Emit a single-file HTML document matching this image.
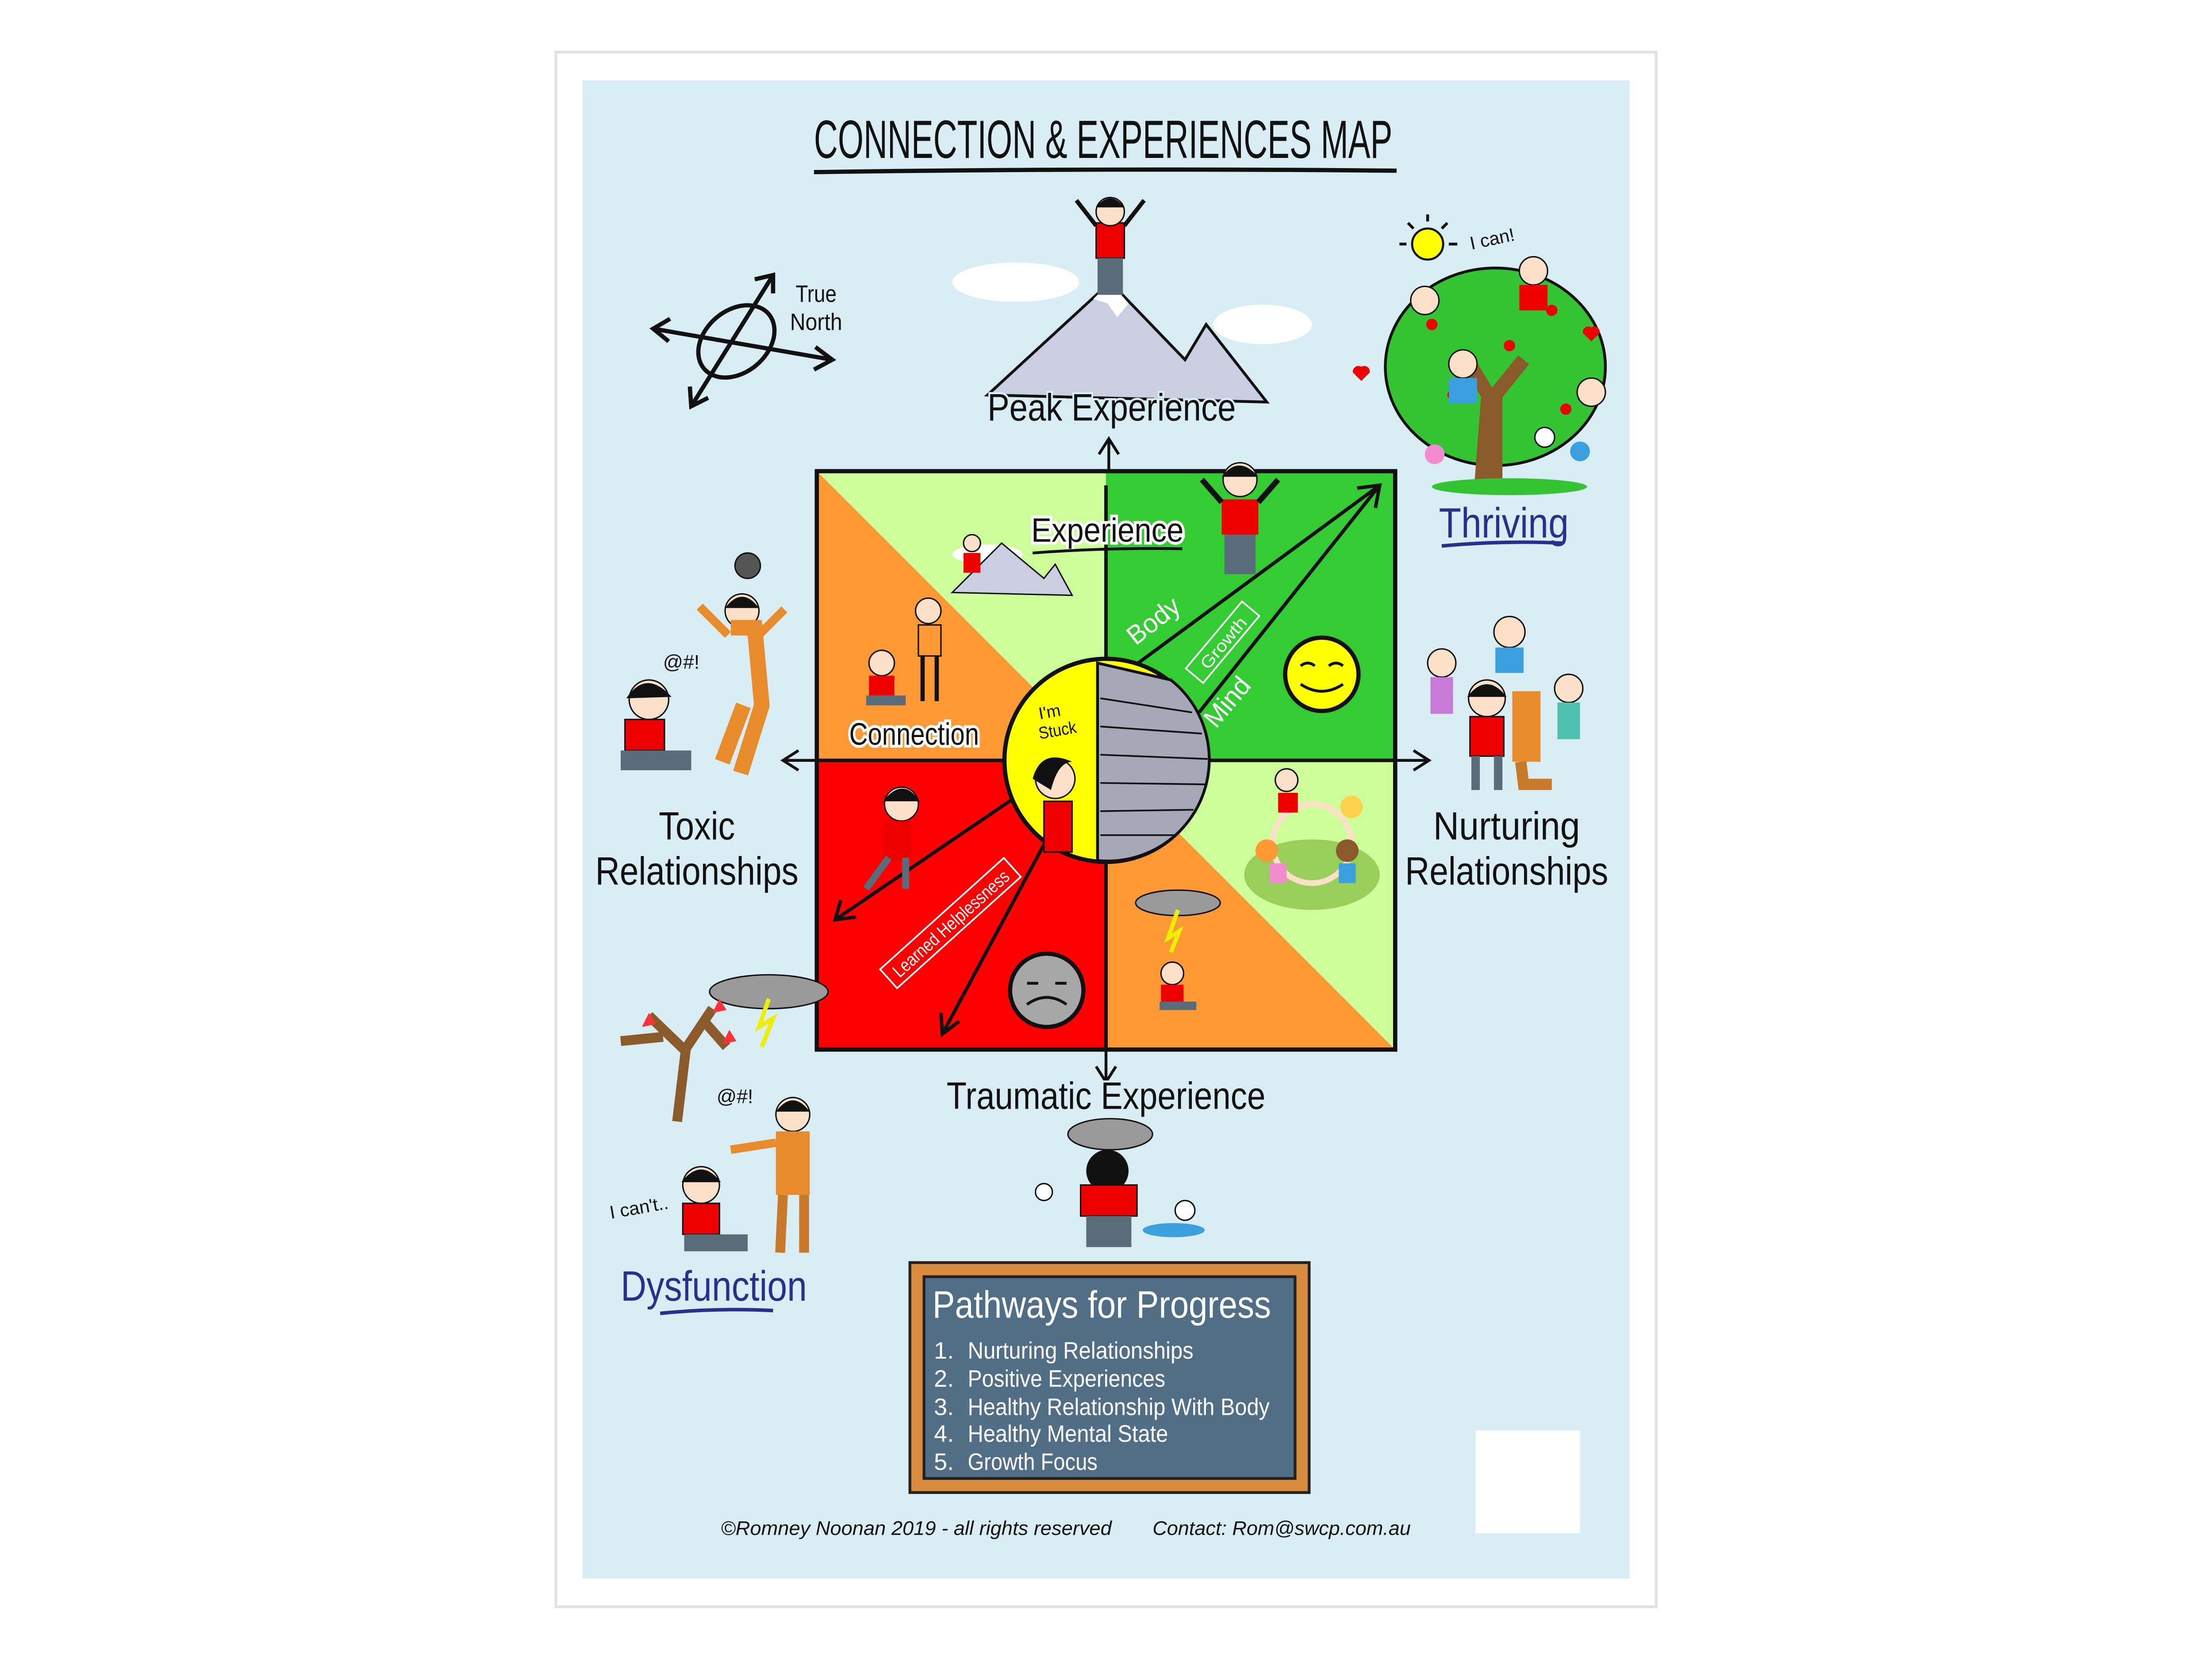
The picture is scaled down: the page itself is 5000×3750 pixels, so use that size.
<!DOCTYPE html>
<html><head><meta charset="utf-8"><style>
html,body{margin:0;padding:0;background:#fff;}
svg{display:block;}
text{font-family:"Liberation Sans Narrow","Liberation Sans",sans-serif;}
</style></head><body>
<svg width="5000" height="3750" viewBox="0 0 1568 1176" xmlns="http://www.w3.org/2000/svg">
<rect x="0" y="0" width="1568" height="1176" fill="#fff"/>
<rect x="393" y="36" width="782" height="1104" fill="#e2e2e2"/>
<rect x="395" y="38" width="778" height="1100" fill="#fff"/>
<rect x="413" y="57" width="742" height="1062" fill="#d9edf5"/>
<!-- title -->
<text x="782" y="112" font-size="38" text-anchor="middle" textLength="410" lengthAdjust="spacingAndGlyphs" fill="#111">CONNECTION &amp; EXPERIENCES MAP</text>
<path d="M577 122 Q780 119 990 121" stroke="#111" stroke-width="3" fill="none"/>

<!-- compass -->
<g stroke="#111" stroke-width="3" fill="none">
<line x1="463" y1="233" x2="590" y2="255"/>
<line x1="490" y1="288" x2="548" y2="195"/>
<ellipse cx="522" cy="242" rx="30" ry="22" transform="rotate(-40 522 242)"/>
<path d="M475 226 L463 233 L474 242"/><path d="M578 246 L590 255 L577 262"/>
<path d="M535 198 L548 195 L548 208"/><path d="M489 274 L490 288 L502 282"/>
</g>
<text x="564" y="214" font-size="17" fill="#111" textLength="29" lengthAdjust="spacingAndGlyphs">True</text>
<text x="560" y="234" font-size="17" fill="#111" textLength="37" lengthAdjust="spacingAndGlyphs">North</text>

<!-- mountain top -->
<ellipse cx="720" cy="200" rx="45" ry="14" fill="#fff"/>
<ellipse cx="895" cy="230" rx="35" ry="14" fill="#fff"/>
<polygon points="700,280 787,200 840,255 855,230 898,285" fill="#c9cfe0" stroke="#111" stroke-width="2"/>
<polygon points="775,212 787,200 800,215 792,225 785,215" fill="#fff"/>
<rect x="777" y="158" width="20" height="25" fill="#e00" stroke="#111"/>
<circle cx="787" cy="150" r="10" fill="#fde0c8" stroke="#111"/>
<path d="M777 147 Q787 134 797 147" fill="#111"/>
<rect x="778" y="183" width="18" height="26" fill="#5a6b7a"/>
<path d="M777 160 L763 142 M797 160 L811 142" stroke="#111" stroke-width="3"/>
<text x="788" y="298" font-size="27" text-anchor="middle" fill="#111" textLength="176" lengthAdjust="spacingAndGlyphs" stroke="#d9edf5" stroke-width="3" paint-order="stroke">Peak Experience</text>
<line x1="786" y1="334" x2="786" y2="312" stroke="#111" stroke-width="2"/>
<path d="M779 322 L786 311 L793 322" stroke="#111" stroke-width="2" fill="none"/>

<!-- Thriving tree -->
<circle cx="1012" cy="173" r="11" fill="#ff0" stroke="#111" stroke-width="1.5"/>
<g stroke="#111" stroke-width="2"><line x1="1012" y1="152" x2="1012" y2="157"/><line x1="992" y1="173" x2="997" y2="173"/><line x1="1027" y1="173" x2="1033" y2="173"/><line x1="998" y1="158" x2="1002" y2="162"/><line x1="1026" y1="158" x2="1022" y2="162"/></g>
<text x="1043" y="177" font-size="13" fill="#111" transform="rotate(-12 1043 177)" textLength="32" lengthAdjust="spacingAndGlyphs">I can!</text>
<ellipse cx="1060" cy="260" rx="78" ry="70" fill="#33c333" stroke="#111" stroke-width="2"/>
<path d="M1050 345 L1055 280 L1040 255 M1060 345 L1060 280 L1080 255" stroke="#8a5a2b" stroke-width="10" fill="none"/>
<ellipse cx="1070" cy="345" rx="55" ry="6" fill="#33c333"/>
<g fill="#e00"><circle cx="1015" cy="230" r="4"/><circle cx="1100" cy="220" r="4"/><circle cx="1110" cy="290" r="4"/><circle cx="1070" cy="245" r="4"/><circle cx="1030" cy="280" r="4"/></g>
<circle cx="1087" cy="192" r="10" fill="#fde0c8" stroke="#111"/><rect x="1077" y="202" width="20" height="18" fill="#e00"/>
<circle cx="1010" cy="213" r="10" fill="#fde0c8" stroke="#111"/><circle cx="1037" cy="258" r="10" fill="#fde0c8" stroke="#111"/><rect x="1027" y="268" width="20" height="18" fill="#3aa0e0"/>
<circle cx="1128" cy="278" r="10" fill="#fde0c8" stroke="#111"/>
<path d="M965 270 l-6 -6 a4 4 0 0 1 6 -4 a4 4 0 0 1 6 4 z" fill="#e00"/>
<path d="M1128 242 l-6 -6 a4 4 0 0 1 6 -4 a4 4 0 0 1 6 4 z" fill="#e00"/>
<circle cx="1017" cy="322" r="7" fill="#f48ad0"/><circle cx="1095" cy="310" r="7" fill="#fff" stroke="#111"/><circle cx="1120" cy="320" r="7" fill="#3aa0e0"/>
<text x="1066" y="381" font-size="30" text-anchor="middle" fill="#2a2f8f" textLength="92" lengthAdjust="spacingAndGlyphs">Thriving</text>
<path d="M1022 387 Q1065 383 1108 385" stroke="#2a2f8f" stroke-width="2.5" fill="none"/>

<!-- main square -->
<polygon points="579,334 784,334 784,539" fill="#ccff99"/>
<polygon points="579,334 784,539 579,539" fill="#ff9933"/>
<rect x="784" y="334" width="205" height="205" fill="#33cc33"/>
<rect x="579" y="539" width="205" height="205" fill="#ff0000"/>
<polygon points="784,539 989,539 989,744" fill="#ccff99"/>
<polygon points="784,539 989,744 784,744" fill="#ff9933"/>
<rect x="579" y="334" width="410" height="410" fill="none" stroke="#111" stroke-width="3"/>
<line x1="579" y1="539" x2="989" y2="539" stroke="#111" stroke-width="2.5"/>
<line x1="784" y1="344" x2="784" y2="744" stroke="#111" stroke-width="2.5"/>
<line x1="784" y1="744" x2="784" y2="766" stroke="#111" stroke-width="2"/>
<path d="M777 756 L784 767 L791 756" stroke="#111" stroke-width="2" fill="none"/>
<line x1="555" y1="539" x2="579" y2="539" stroke="#111" stroke-width="2"/>
<path d="M566 532 L555 539 L566 546" stroke="#111" stroke-width="2" fill="none"/>
<line x1="989" y1="539" x2="1013" y2="539" stroke="#111" stroke-width="2"/>
<path d="M1002 532 L1013 539 L1002 546" stroke="#111" stroke-width="2" fill="none"/>

<!-- arrows in square -->
<g stroke="#111" stroke-width="2.5" fill="none">
<line x1="850" y1="505" x2="978" y2="344"/><line x1="800" y1="475" x2="978" y2="344"/>
<path d="M962 346 L978 344 L975 360"/>
<line x1="720" y1="565" x2="592" y2="652"/><path d="M596 638 L592 652 L607 650"/>
<line x1="742" y1="595" x2="668" y2="733"/><path d="M667 718 L668 733 L680 724"/>
</g>

<!-- circle center -->
<circle cx="784" cy="539" r="72" fill="#ffff00" stroke="#111" stroke-width="3"/>
<path d="M778 470 L830 482 A72 72 0 0 1 778 610 Z" fill="#a7a7b8" stroke="#111" stroke-width="2"/>
<g stroke="#111" stroke-width="1.2"><line x1="780" y1="495" x2="845" y2="505"/><line x1="780" y1="515" x2="852" y2="520"/><line x1="780" y1="535" x2="856" y2="538"/><line x1="780" y1="555" x2="854" y2="556"/><line x1="780" y1="575" x2="846" y2="574"/><line x1="780" y1="592" x2="832" y2="592"/></g>
<text x="737" y="510" font-size="12" fill="#111" transform="rotate(-10 737 510)">I'm</text>
<text x="737" y="524" font-size="12" fill="#111" transform="rotate(-10 737 524)" textLength="27" lengthAdjust="spacingAndGlyphs">Stuck</text>
<circle cx="748" cy="552" r="14" fill="#fde0c8" stroke="#111"/><path d="M732 552 Q738 530 760 540 Q750 540 745 560 Z" fill="#111"/>
<rect x="740" y="568" width="20" height="36" fill="#e00" stroke="#111"/>

<!-- quadrant figures -->
<ellipse cx="700" cy="393" rx="25" ry="7" fill="#fff"/>
<polygon points="675,420 710,385 740,410 748,400 760,422" fill="#c9cfe0" stroke="#111"/>
<rect x="683" y="392" width="12" height="14" fill="#e00"/><circle cx="689" cy="385" r="6" fill="#fde0c8" stroke="#111"/>
<text x="785" y="384" font-size="24" text-anchor="middle" fill="#111" stroke="#fff" stroke-width="4" paint-order="stroke" textLength="108" lengthAdjust="spacingAndGlyphs">Experience</text>
<path d="M732 392 Q785 388 838 389" stroke="#111" stroke-width="2" fill="none"/>
<circle cx="658" cy="433" r="9" fill="#fde0c8" stroke="#111"/><rect x="651" y="443" width="16" height="22" fill="#ff9933" stroke="#111"/><path d="M654 465 L654 497 M664 465 L664 497" stroke="#111" stroke-width="3"/>
<circle cx="625" cy="470" r="9" fill="#fde0c8" stroke="#111"/><rect x="616" y="479" width="18" height="14" fill="#e00"/><rect x="614" y="493" width="28" height="7" fill="#5a6b7a"/>
<text x="648" y="528" font-size="22" text-anchor="middle" fill="#111" stroke="#fff" stroke-width="4" paint-order="stroke" textLength="92" lengthAdjust="spacingAndGlyphs">Connection</text>
<circle cx="879" cy="340" r="12" fill="#fde0c8" stroke="#111"/><path d="M866 338 Q878 322 892 338" fill="#111"/>
<rect x="866" y="354" width="26" height="25" fill="#e00"/><rect x="868" y="379" width="22" height="28" fill="#5a6b7a"/>
<path d="M866 356 L852 340 M892 356 L906 340" stroke="#111" stroke-width="4"/>
<text x="805" y="458" font-size="19" fill="#fff" transform="rotate(-38 805 458)" textLength="42" lengthAdjust="spacingAndGlyphs">Body</text>
<g transform="rotate(-50 866 456)"><rect x="836" y="448" width="62" height="16" fill="none" stroke="#fff" stroke-width="1.2"/><text x="867" y="461" font-size="12" fill="#fff" text-anchor="middle" textLength="44" lengthAdjust="spacingAndGlyphs">Growth</text></g>
<text x="862" y="517" font-size="19" fill="#fff" transform="rotate(-50 862 517)" textLength="40" lengthAdjust="spacingAndGlyphs">Mind</text>
<circle cx="937" cy="478" r="26" fill="#ffff00" stroke="#111" stroke-width="3"/>
<path d="M922 485 Q937 495 952 485 M922 472 Q927 468 932 472 M942 472 Q947 468 952 472" stroke="#111" stroke-width="2" fill="none"/>
<circle cx="639" cy="570" r="12" fill="#fde0c8" stroke="#111"/><path d="M626 568 Q640 550 652 568" fill="#111"/><rect x="626" y="582" width="20" height="28" fill="#e00"/><path d="M630 608 L614 630 M642 608 L642 630" stroke="#5a6b7a" stroke-width="5"/>
<g transform="rotate(-42 673 655)"><rect x="615" y="646" width="118" height="18" fill="none" stroke="#fff" stroke-width="1.2"/><text x="674" y="660" font-size="13" fill="#fff" text-anchor="middle" textLength="106" lengthAdjust="spacingAndGlyphs">Learned Helplessness</text></g>
<circle cx="742" cy="702" r="26" fill="#a7a7a7" stroke="#111" stroke-width="3"/>
<path d="M728 712 Q742 702 756 712 M728 697 L736 697 M748 697 L756 697" stroke="#111" stroke-width="2" fill="none"/>
<ellipse cx="930" cy="620" rx="48" ry="25" fill="#8bc34a" opacity=".8"/>
<circle cx="930" cy="598" r="28" fill="none" stroke="#fde0c8" stroke-width="4"/>
<circle cx="912" cy="553" r="8" fill="#fde0c8" stroke="#111"/><circle cx="958" cy="572" r="8" fill="#ffd24d"/><circle cx="898" cy="603" r="8" fill="#ff9933"/><circle cx="955" cy="603" r="8" fill="#8a5a2b"/>
<rect x="906" y="562" width="14" height="14" fill="#e00"/><rect x="949" y="612" width="12" height="14" fill="#3aa0e0"/><rect x="900" y="612" width="12" height="14" fill="#f48ad0"/>
<ellipse cx="835" cy="640" rx="30" ry="9" fill="#999" stroke="#111"/>
<path d="M835 645 L828 665 L836 660 L830 675" stroke="#ee0" stroke-width="3" fill="none"/>
<circle cx="831" cy="690" r="8" fill="#fde0c8" stroke="#111"/><rect x="823" y="698" width="16" height="12" fill="#e00"/><rect x="822" y="710" width="26" height="6" fill="#5a6b7a"/>

<!-- left Toxic -->
<circle cx="530" cy="401" r="9" fill="#555" stroke="#111"/>
<circle cx="526" cy="433" r="12" fill="#fde0c8" stroke="#111"/><path d="M514 431 Q526 415 538 431" fill="#111"/>
<path d="M518 445 L535 445 L540 500 L525 548 M527 500 L512 540" stroke="#e88b2a" stroke-width="11" fill="none"/>
<path d="M516 450 L496 430 M538 450 L556 432" stroke="#e88b2a" stroke-width="6"/>
<text x="470" y="474" font-size="14" fill="#111">@#!</text>
<circle cx="460" cy="496" r="14" fill="#fde0c8" stroke="#111"/><path d="M444 495 Q458 474 476 494" fill="#111"/>
<rect x="443" y="510" width="28" height="22" fill="#e00" stroke="#111"/><rect x="440" y="532" width="50" height="14" fill="#5a6b7a"/>
<text x="494" y="595" font-size="28" text-anchor="middle" fill="#111" textLength="54" lengthAdjust="spacingAndGlyphs">Toxic</text>
<text x="494" y="627" font-size="28" text-anchor="middle" fill="#111" textLength="144" lengthAdjust="spacingAndGlyphs">Relationships</text>

<!-- right Nurturing -->
<circle cx="1070" cy="448" r="11" fill="#fde0c8" stroke="#111"/><rect x="1060" y="459" width="20" height="18" fill="#3aa0e0"/>
<circle cx="1022" cy="470" r="10" fill="#fde0c8" stroke="#111"/><rect x="1014" y="480" width="16" height="26" fill="#c87ad8"/>
<circle cx="1112" cy="488" r="10" fill="#fde0c8" stroke="#111"/><rect x="1104" y="498" width="16" height="26" fill="#4dc0b0"/>
<circle cx="1054" cy="495" r="13" fill="#fde0c8" stroke="#111"/><path d="M1040 494 Q1054 476 1068 494" fill="#111"/>
<rect x="1042" y="508" width="24" height="28" fill="#e00" stroke="#111"/><path d="M1046 536 L1046 560 M1062 536 L1062 560" stroke="#5a6b7a" stroke-width="6"/>
<rect x="1072" y="490" width="20" height="50" fill="#e88b2a"/><path d="M1078 540 L1080 556 L1100 556" stroke="#c87a2a" stroke-width="8" fill="none"/>
<text x="1068" y="595" font-size="28" text-anchor="middle" fill="#111" textLength="104" lengthAdjust="spacingAndGlyphs">Nurturing</text>
<text x="1068" y="627" font-size="28" text-anchor="middle" fill="#111" textLength="144" lengthAdjust="spacingAndGlyphs">Relationships</text>

<!-- Dysfunction -->
<ellipse cx="545" cy="703" rx="42" ry="12" fill="#999" stroke="#111"/>
<path d="M545 708 L538 728 L548 722 L540 742" stroke="#ee0" stroke-width="3" fill="none"/>
<path d="M480 795 L486 745 L460 720 M485 745 L505 715 M470 735 L440 738 M500 725 L515 742" stroke="#8a5a2b" stroke-width="7" fill="none"/>
<path d="M455 728 l5 -10 l5 8 z M505 718 l5 -10 l5 8 z M512 740 l5 -10 l5 8 z" fill="#f33"/>
<text x="508" y="782" font-size="14" fill="#111">@#!</text>
<circle cx="562" cy="790" r="12" fill="#fde0c8" stroke="#111"/><path d="M550 788 Q562 772 574 788" fill="#111"/>
<rect x="550" y="802" width="24" height="45" fill="#e88b2a"/><path d="M555 847 L553 888 M570 847 L570 888" stroke="#c87a2a" stroke-width="7"/>
<path d="M550 810 L518 815" stroke="#e88b2a" stroke-width="6"/>
<circle cx="497" cy="840" r="13" fill="#fde0c8" stroke="#111"/><path d="M483 838 Q497 820 511 838" fill="#111"/>
<rect x="484" y="853" width="26" height="22" fill="#e00" stroke="#111"/><rect x="485" y="875" width="45" height="12" fill="#5a6b7a"/>
<text x="433" y="864" font-size="13" fill="#111" transform="rotate(-10 433 864)" textLength="42" lengthAdjust="spacingAndGlyphs">I can't..</text>
<text x="506" y="922" font-size="30" text-anchor="middle" fill="#2a2f8f" textLength="132" lengthAdjust="spacingAndGlyphs">Dysfunction</text>
<path d="M468 931 Q508 927 548 929" stroke="#2a2f8f" stroke-width="2.5" fill="none"/>

<!-- Traumatic -->
<text x="784" y="786" font-size="27" text-anchor="middle" fill="#111" textLength="226" lengthAdjust="spacingAndGlyphs" stroke="#d9edf5" stroke-width="3" paint-order="stroke">Traumatic Experience</text>
<ellipse cx="787" cy="804" rx="30" ry="11" fill="#999" stroke="#111"/>
<circle cx="785" cy="830" r="15" fill="#111"/>
<rect x="766" y="840" width="40" height="22" fill="#e00" stroke="#111"/><rect x="770" y="862" width="32" height="22" fill="#5a6b7a"/>
<circle cx="740" cy="845" r="6" fill="#fff" stroke="#111"/>
<ellipse cx="832" cy="872" rx="22" ry="5" fill="#3aa0e0"/><circle cx="840" cy="858" r="7" fill="#fff" stroke="#111"/>

<!-- Blackboard -->
<rect x="645" y="895" width="283" height="163" fill="#d98c3e" stroke="#222" stroke-width="2"/>
<rect x="655" y="905" width="263" height="143" fill="#506f87" stroke="#222" stroke-width="2"/>
<text x="661" y="934" font-size="27" fill="#fff" textLength="240" lengthAdjust="spacingAndGlyphs">Pathways for Progress</text>
<g font-size="17" fill="#fff">
<text x="662" y="963">1.</text><text x="686" y="963" textLength="160" lengthAdjust="spacingAndGlyphs">Nurturing Relationships</text>
<text x="662" y="983">2.</text><text x="686" y="983" textLength="140" lengthAdjust="spacingAndGlyphs">Positive Experiences</text>
<text x="662" y="1003">3.</text><text x="686" y="1003" textLength="214" lengthAdjust="spacingAndGlyphs">Healthy Relationship With Body</text>
<text x="662" y="1022">4.</text><text x="686" y="1022" textLength="142" lengthAdjust="spacingAndGlyphs">Healthy Mental State</text>
<text x="662" y="1042">5.</text><text x="686" y="1042" textLength="92" lengthAdjust="spacingAndGlyphs">Growth Focus</text>
</g>
<rect x="1046" y="1014" width="74" height="73" fill="#fff"/>
<text x="511" y="1088" font-size="14" font-style="italic" fill="#111" textLength="277" lengthAdjust="spacingAndGlyphs">©Romney Noonan 2019 - all rights reserved</text>
<text x="817" y="1088" font-size="14" font-style="italic" fill="#111" textLength="183" lengthAdjust="spacingAndGlyphs">Contact: Rom@swcp.com.au</text>
</svg>
</body></html>
